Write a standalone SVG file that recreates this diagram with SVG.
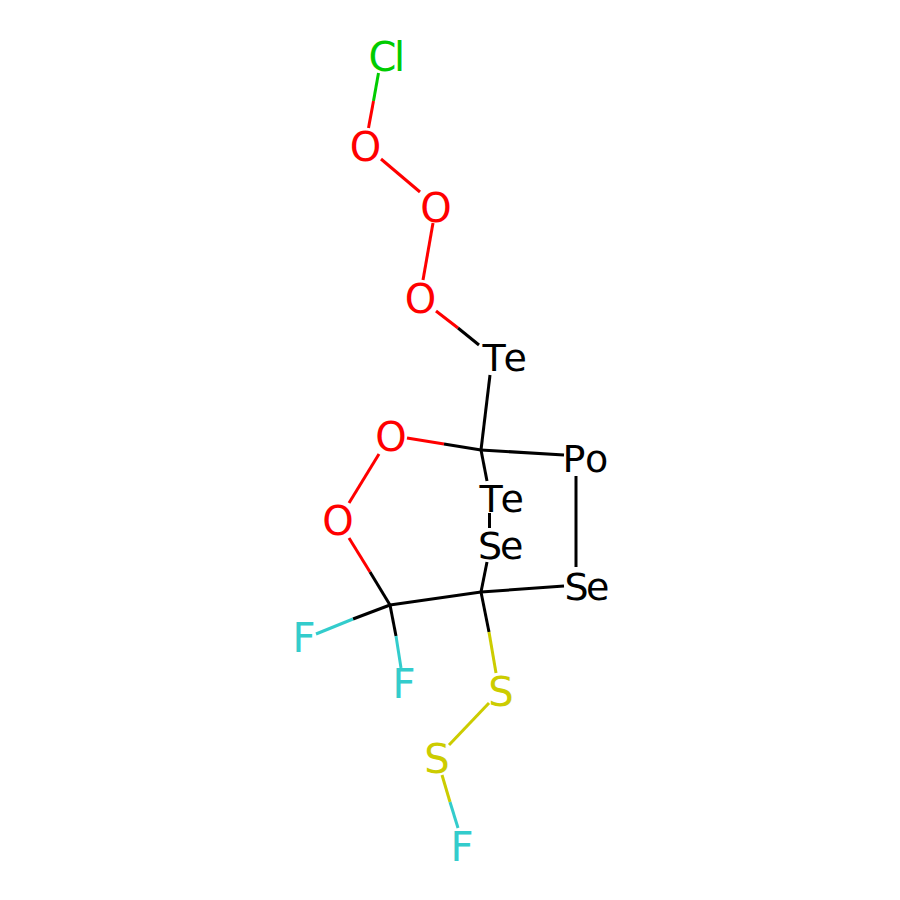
<svg xmlns="http://www.w3.org/2000/svg" width="900" height="900" viewBox="0 0 900 900">
<style>
.b{stroke-width:3;stroke-linecap:butt;fill:none}
.t{font-family:"DejaVu Sans",sans-serif;font-size:40px;text-anchor:middle}
.m{text-anchor:start}
.n{font-size:38px}
.k{stroke:#000}.r{stroke:#f00}.g{stroke:#0c0}.c{stroke:#33cccc}.y{stroke:#cc0}
.tk{fill:#000}.tr{fill:#f00}.tg{fill:#0c0}.tc{fill:#33cccc}.ty{fill:#cc0}
</style>
<rect width="900" height="900" fill="#fff"/>
<g id="connectors">
<path class="b g" d="M378.500 73L373.500 101"/><path class="b r" d="M373.500 101L368.500 128"/>
<path class="b r" d="M381 159L420 192"/>
<path class="b r" d="M433 223L423 280"/>
<path class="b r" d="M436 311L458 328"/><path class="b k" d="M458 328L479 345"/>
<path class="b k" d="M490 375L481 450"/>
<path class="b k" d="M481 450L564 455"/>
<path class="b k" d="M481 450L487 481"/>
<path class="b k" d="M489.500 513L489.500 528"/>
<path class="b r" d="M407 438L444 444"/><path class="b k" d="M444 444L481 450"/>
<path class="b r" d="M379 454L349 503"/>
<path class="b r" d="M349 538L370 572"/><path class="b k" d="M370 572L390 605"/>
<path class="b k" d="M390 605L481 592"/>
<path class="b k" d="M481 592L487 562"/>
<path class="b k" d="M481 592L564 586"/>
<path class="b k" d="M576 476L576 567"/>
<path class="b k" d="M390 605L353 619"/><path class="b c" d="M353 619L316 634"/>
<path class="b k" d="M390 605L396 636"/><path class="b c" d="M396 636L401 668"/>
<path class="b k" d="M481 592L489 632"/><path class="b y" d="M489 632L496 673"/>
<path class="b y" d="M489 703L449 745"/>
<path class="b y" d="M442 775L450 802"/><path class="b c" d="M450 802L458 828"/>
</g>
<g id="n-cl"><text class="t m tg" x="368.500 394" y="71">Cl</text></g>
<g id="n-o1"><text class="t tr" x="365.500" y="161">O</text></g>
<g id="n-o2"><text class="t tr" x="436" y="221.500">O</text></g>
<g id="n-o3"><text class="t tr" x="420.500" y="312.500">O</text></g>
<g id="n-te1"><text class="t n m tk" x="482.500 503.500" y="371">Te</text></g>
<g id="n-o4"><text class="t tr" x="391" y="451">O</text></g>
<g id="n-po"><text class="t n m tk" x="562.500 585" y="472">Po</text></g>
<g id="n-te2"><text class="t n m tk" x="479.500 500.500" y="512">Te</text></g>
<g id="n-o5"><text class="t tr" x="338" y="535">O</text></g>
<g id="n-se1"><text class="t n m tk" x="478 500" y="559">Se</text></g>
<g id="n-se2"><text class="t n m tk" x="564.500 586" y="600">Se</text></g>
<g id="n-f1"><text class="t tc" x="304" y="652">F</text></g>
<g id="n-f2"><text class="t tc" x="404" y="698">F</text></g>
<g id="n-s1"><text class="t ty" x="501" y="706">S</text></g>
<g id="n-s2"><text class="t ty" x="437" y="773">S</text></g>
<g id="n-f3"><text class="t tc" x="462" y="861">F</text></g>
</svg>
